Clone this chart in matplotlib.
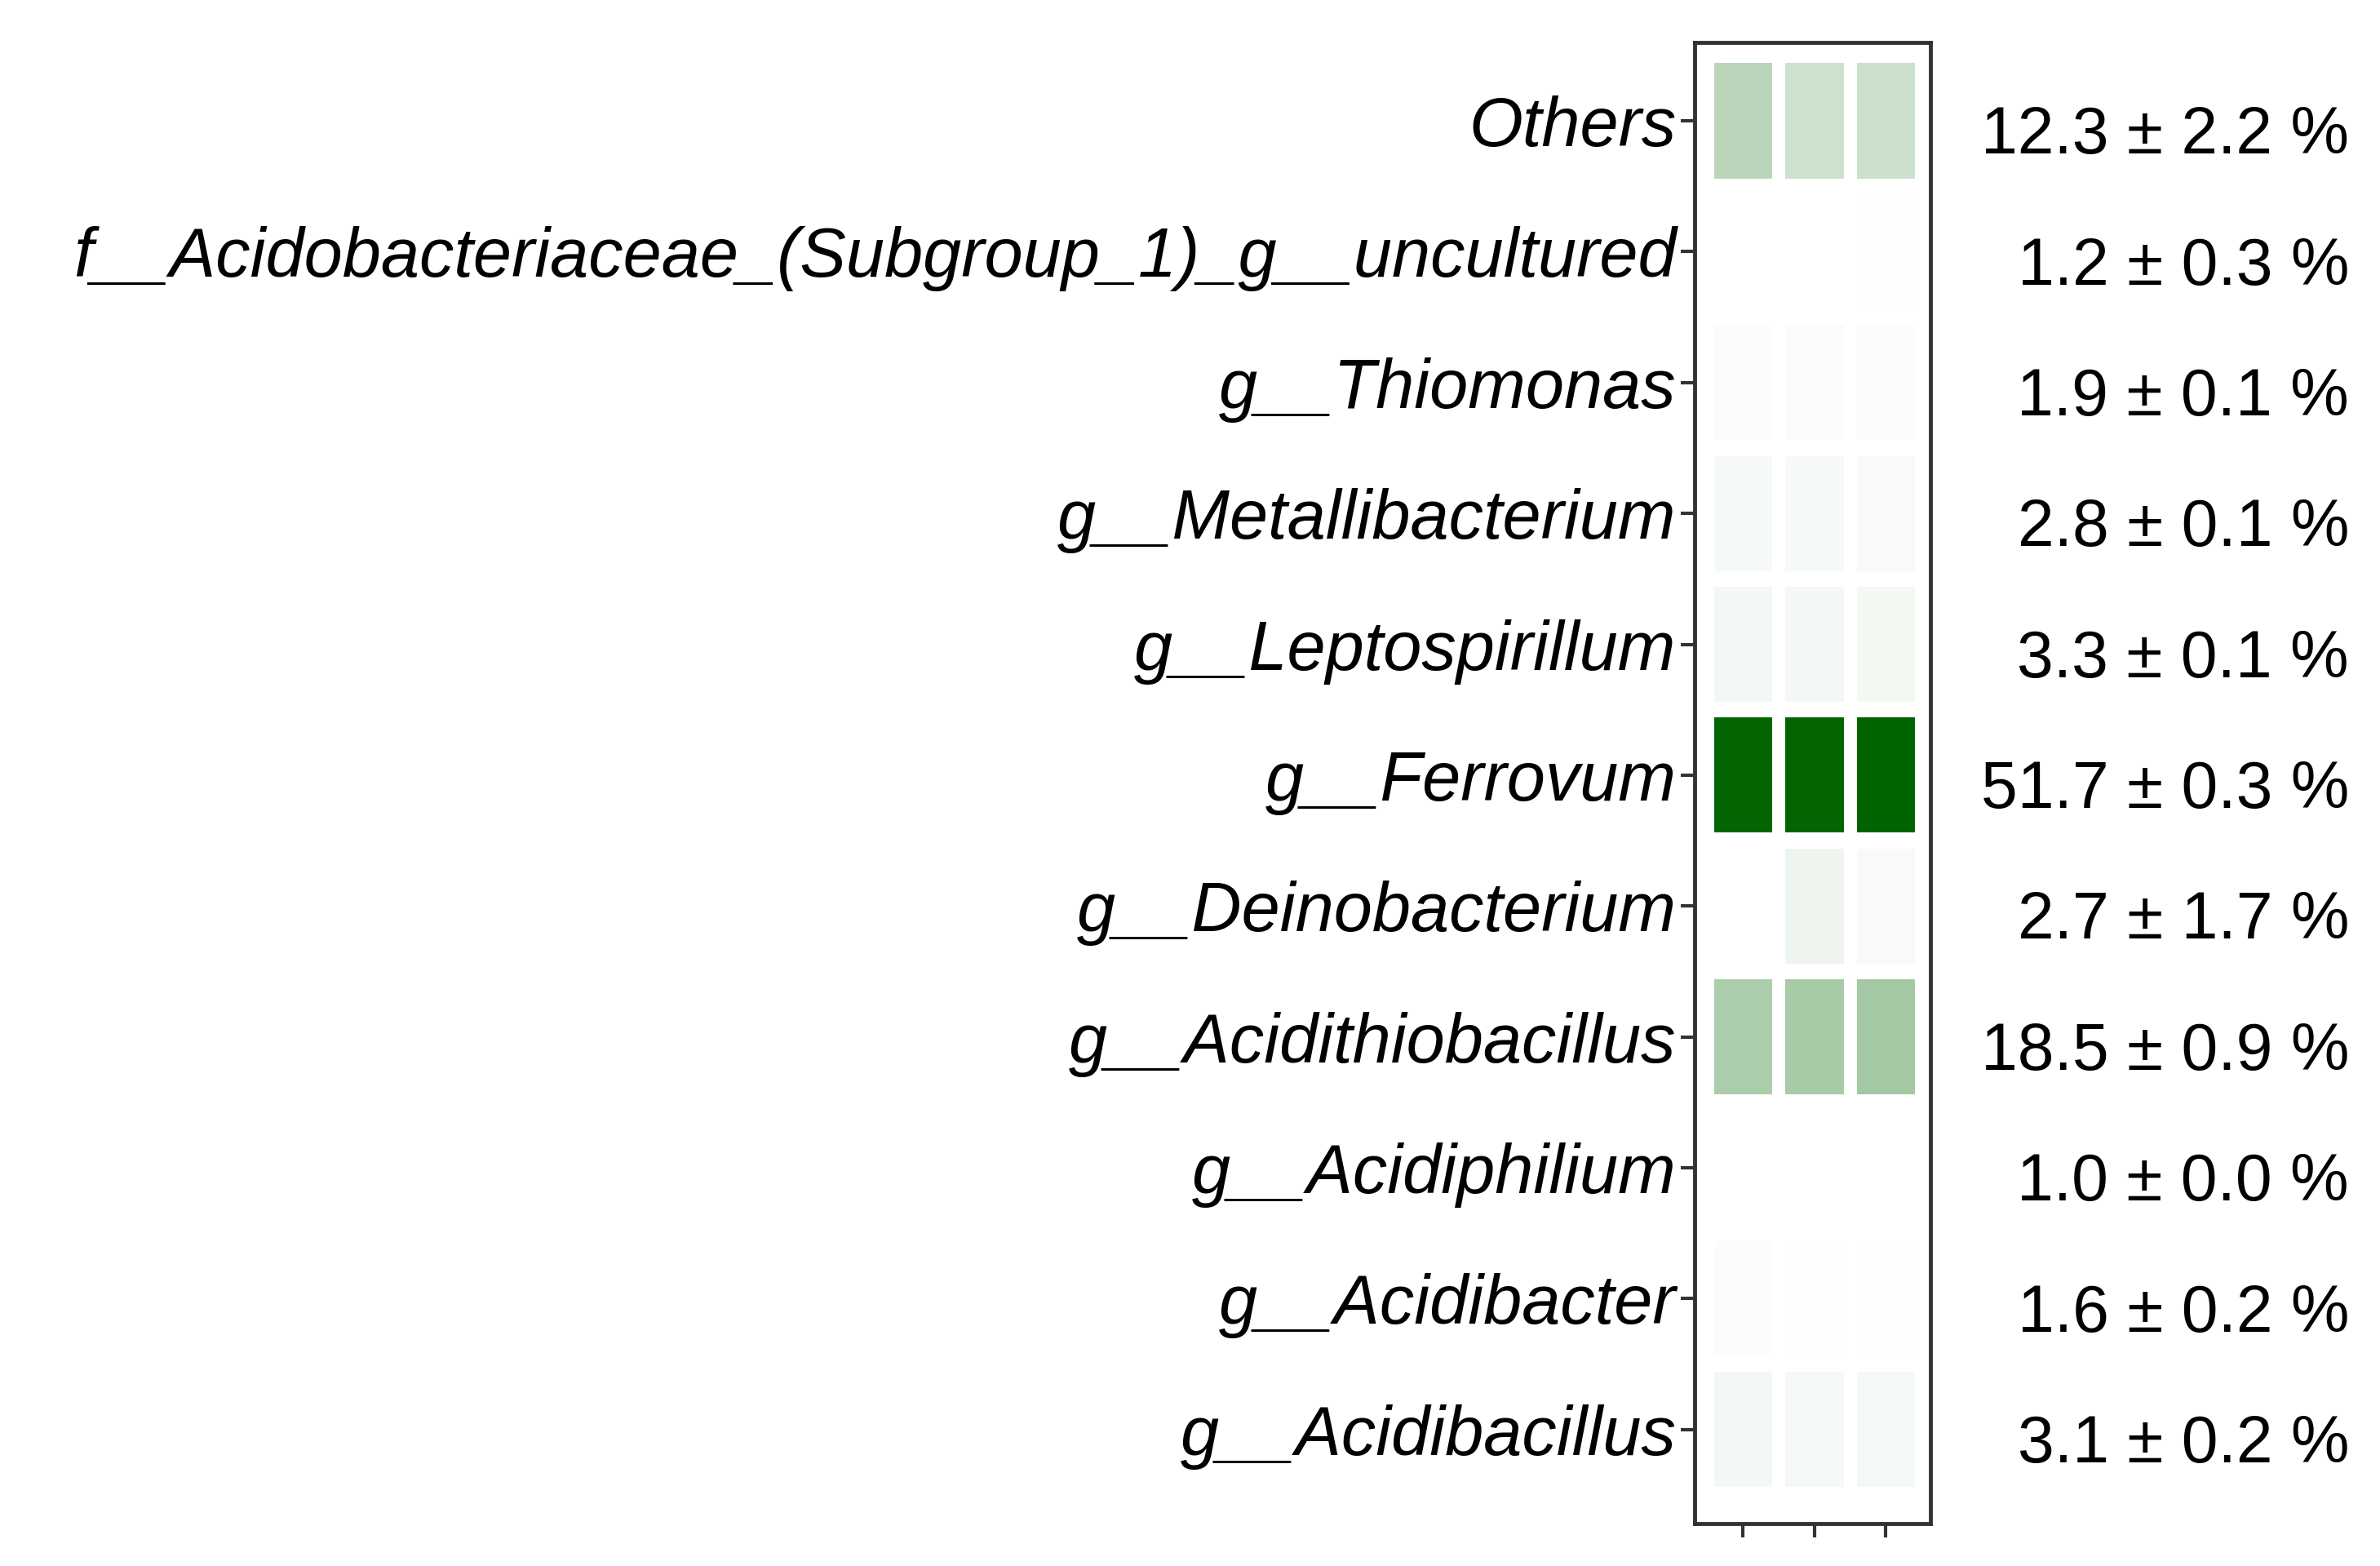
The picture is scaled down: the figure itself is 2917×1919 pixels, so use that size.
import matplotlib
matplotlib.use("Agg")
import matplotlib.pyplot as plt
import numpy as np
from matplotlib.colors import LinearSegmentedColormap
from matplotlib.patches import Rectangle

taxa = ["Others", "f__Acidobacteriaceae_(Subgroup_1)_g__uncultured", "g__Thiomonas",
        "g__Metallibacterium", "g__Leptospirillum", "g__Ferrovum", "g__Deinobacterium",
        "g__Acidithiobacillus", "g__Acidiphilium", "g__Acidibacter", "g__Acidibacillus"]
s1 = [14.8, 1.0, 1.9, 2.8, 3.3, 51.5, 0.9, 17.6, 1.0, 1.8, 3.3]
s2 = [10.9, 1.0, 2.0, 2.9, 3.2, 51.6, 4.5, 18.6, 1.0, 1.5, 3.0]
s3 = [11.2, 1.5, 1.8, 2.7, 3.4, 52.0, 2.7, 19.3, 1.0, 1.5, 3.1]
labels = ["12.3 ± 2.2 %", "1.2 ± 0.3 %", "1.9 ± 0.1 %", "2.8 ± 0.1 %", "3.3 ± 0.1 %",
          "51.7 ± 0.3 %", "2.7 ± 1.7 %", "18.5 ± 0.9 %", "1.0 ± 0.0 %", "1.6 ± 0.2 %",
          "3.1 ± 0.2 %"]

plt.rcParams['font.family'] = ['Liberation Sans', 'DejaVu Sans']
cmap = LinearSegmentedColormap.from_list("g", ["#ffffff", "#006400"])
norm = plt.Normalize(1.0, 52.0)

fig = plt.figure(figsize=(29.17, 19.19), dpi=100)
ax = fig.add_axes([0.712, 0.027, 0.099, 0.946])
data = np.array([s1, s2, s3]).T
n = len(taxa)
for i in range(n):
    y = n - 1 - i
    for j in range(3):
        ax.add_patch(Rectangle((j - 0.41, y - 0.44), 0.82, 0.88,
                               facecolor=cmap(norm(data[i, j])), edgecolor='none'))
ax.set_xlim(-0.68, 2.62)
ax.set_ylim(-0.72, n - 0.4)
ax.set_xticks([0, 1, 2])
ax.set_xticklabels([])
ax.set_yticks(range(n))
ax.set_yticklabels(taxa[::-1], fontsize=61, style='italic')
ax.tick_params(axis='both', length=12, width=3, color='#333333', pad=4)
for sp in ax.spines.values():
    sp.set_linewidth(3.5)
    sp.set_color('#333333')
for i in range(n):
    y = n - 1 - i
    fig.text(0.987, ax.transData.transform((0, y - 0.12))[1] / fig.bbox.height,
             labels[i], fontsize=58, ha='right', va='center')
fig.savefig("out.png", dpi=100)
